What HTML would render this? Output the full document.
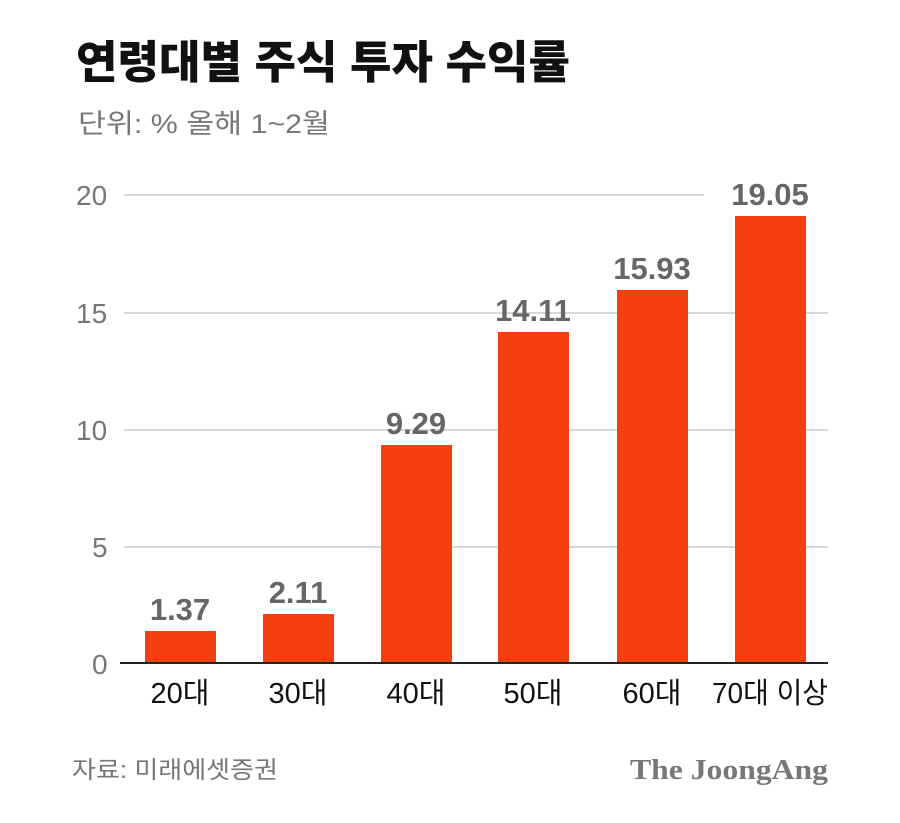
<!DOCTYPE html>
<html><head><meta charset="utf-8"><style>
html,body{margin:0;padding:0;background:#fff;}
svg{display:block;}
</style></head><body>
<svg width="900" height="823" viewBox="0 0 900 823" xmlns="http://www.w3.org/2000/svg" font-family="'Liberation Sans','Noto Sans CJK KR',sans-serif">
<rect width="900" height="823" fill="#fff"/>
<text x="76" y="78" font-size="45" font-weight="900" fill="#111" textLength="494" lengthAdjust="spacingAndGlyphs">연령대별 주식 투자 수익률</text>
<text x="78" y="133" font-size="27" fill="#777" textLength="252" lengthAdjust="spacingAndGlyphs">단위: %  올해 1~2월</text>
<g stroke="#ccc" stroke-width="1.5">
<line x1="124" y1="195" x2="828" y2="195"/>
<line x1="124" y1="313" x2="828" y2="313"/>
<line x1="124" y1="430" x2="828" y2="430"/>
<line x1="124" y1="547" x2="828" y2="547"/>
</g>
<g font-size="28" fill="#777">
<text x="76" y="205">20</text>
<text x="76" y="323">15</text>
<text x="76" y="440">10</text>
<text x="92" y="557">5</text>
<text x="92" y="674">0</text>
</g>
<g fill="#f4400f">
<rect x="145" y="631" width="71" height="32"/>
<rect x="263" y="614" width="71" height="49"/>
<rect x="381" y="445" width="71" height="218"/>
<rect x="498" y="332" width="71" height="331"/>
<rect x="617" y="290" width="71" height="373"/>
<rect x="735" y="216" width="71" height="447"/>
</g>
<line x1="120" y1="663" x2="828" y2="663" stroke="#222" stroke-width="2"/>
<g font-size="31" font-weight="bold" fill="#666" text-anchor="middle">
<text x="180" y="620">1.37</text>
<text x="298" y="603">2.11</text>
<text x="416" y="434">9.29</text>
<text x="533" y="321">14.11</text>
<text x="652" y="279">15.93</text>
<rect x="704" y="176" width="124" height="36" fill="#fff"/>
<text x="770" y="205">19.05</text>
</g>
<g font-size="29" fill="#111" text-anchor="middle">
<text x="180" y="703">20대</text>
<text x="298" y="703">30대</text>
<text x="416" y="703">40대</text>
<text x="533" y="703">50대</text>
<text x="652" y="703">60대</text>
<text x="770" y="703" textLength="116" lengthAdjust="spacingAndGlyphs">70대 이상</text>
</g>
<text x="72" y="778" font-size="24" fill="#777" textLength="206" lengthAdjust="spacingAndGlyphs">자료: 미래에셋증권</text>
<text x="828" y="779" font-size="29" font-weight="bold" fill="#777" text-anchor="end" font-family="'Liberation Serif',serif" textLength="198" lengthAdjust="spacingAndGlyphs">The JoongAng</text>
</svg>
</body></html>
